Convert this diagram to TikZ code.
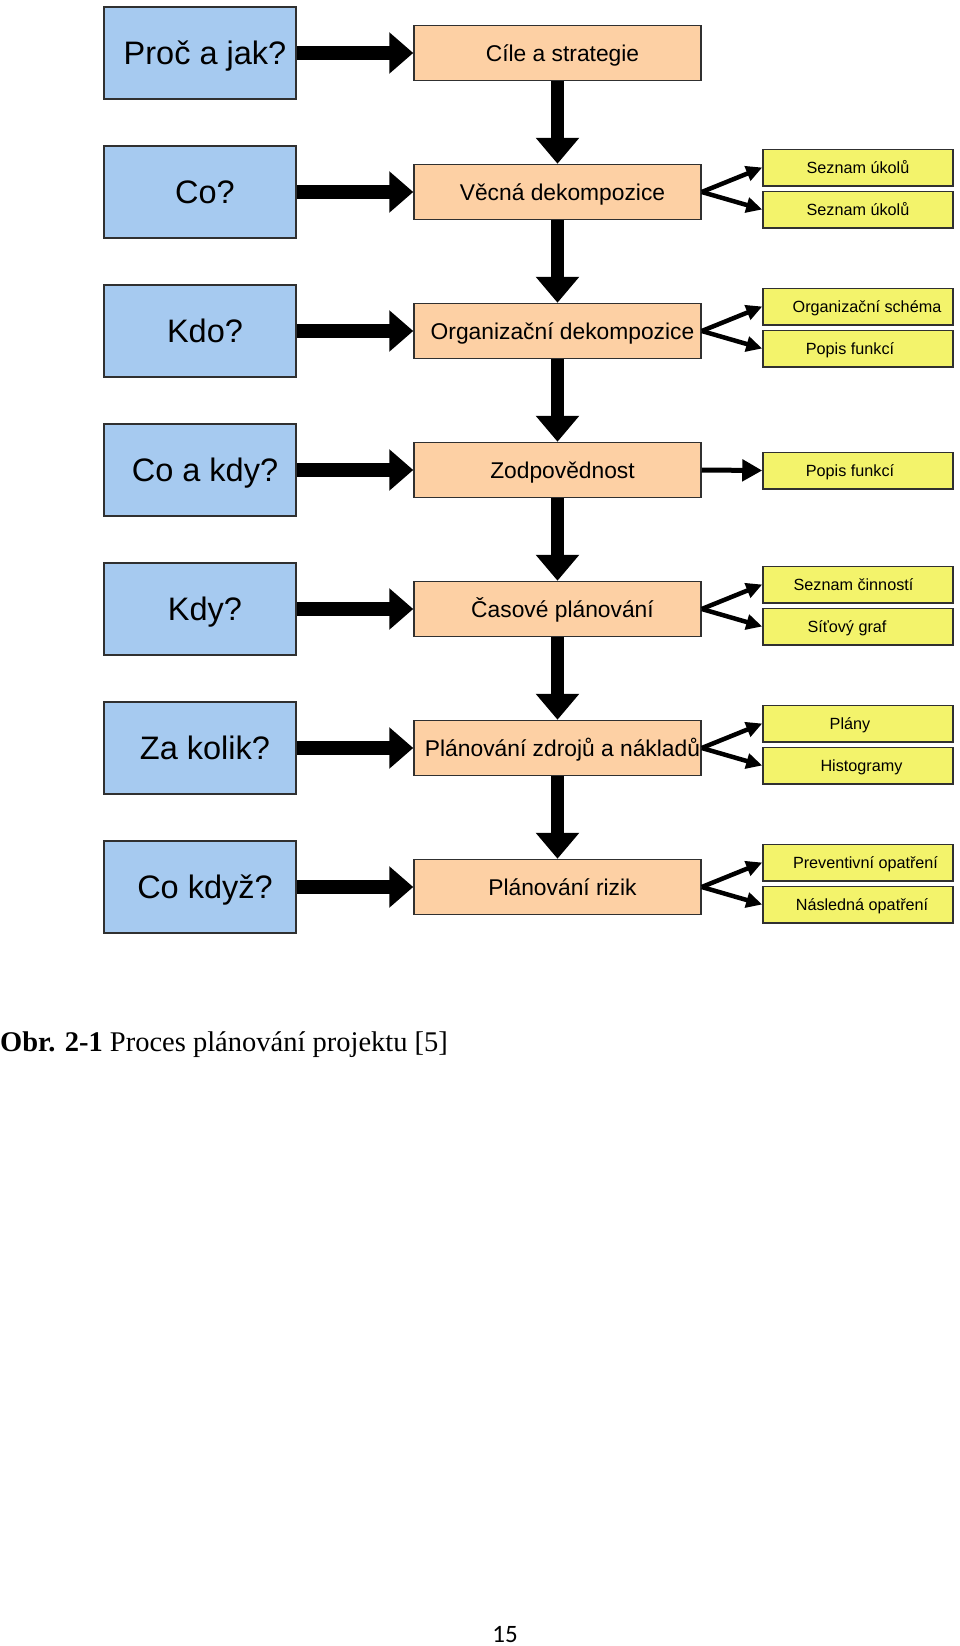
\documentclass[tikz,border=0pt]{standalone}
\usepackage{fontspec}
\setmainfont{Liberation Sans}
\newfontfamily\capfont{Liberation Serif}
\newfontfamily\pagefont{Carlito}
\usetikzlibrary{arrows.meta}
\definecolor{qblue}{HTML}{A6CAF0}
\definecolor{qorange}{HTML}{FDD0A4}
\definecolor{qyellow}{HTML}{F3F36B}
\definecolor{qborder}{HTML}{303030}
\begin{document}
\begin{tikzpicture}[x=1pt,y=-1pt,
  qbox/.style={draw=qborder, line width=1.6pt, fill=qblue, minimum width=192pt, minimum height=92pt, inner sep=0pt,
    text height=23.3pt, text depth=0pt, font=\fontsize{32.5}{36}\selectfont, execute at begin node=\hspace*{10pt}},
  pbox/.style={draw=qborder, line width=1.5pt, fill=qorange, minimum width=287pt, minimum height=55pt, inner sep=0pt,
    text height=16.3pt, text depth=0pt, font=\fontsize{22.8}{26}\selectfont, execute at begin node=\hspace*{10pt}},
  ybox/.style={draw=qborder, line width=1.5pt, fill=qyellow, minimum width=190pt, minimum height=36.5pt, inner sep=0pt,
    text height=11.6pt, text depth=0pt, font=\fontsize{16.2}{18}\selectfont},
  ts/.style={execute at begin node=\hspace*{#1}},
  harrow/.style={line width=14pt, -{Triangle[width=40pt,length=24pt]}},
  varrow/.style={line width=13pt, -{Triangle[width=42pt,length=26pt]}},
  fanarrow/.style={line width=4.5pt, -{Triangle[width=15pt,length=16pt]}},
  onearrow/.style={line width=5pt, -{Triangle[width=21pt,length=20pt]}},
]
\useasboundingbox (0,0) rectangle (960,1646);
% left question boxes
\node[qbox] (q1) at (200,53) {Proč a jak?};
\node[qbox] (q2) at (200,192) {Co?};
\node[qbox] (q3) at (200,331) {Kdo?};
\node[qbox] (q4) at (200,470) {Co a kdy?};
\node[qbox] (q5) at (200,609) {Kdy?};
\node[qbox] (q6) at (200,748) {Za kolik?};
\node[qbox] (q7) at (200,887) {Co když?};
% process boxes
\node[pbox] (p1) at (557.5,53) {Cíle a strategie};
\node[pbox] (p2) at (557.5,192) {Věcná dekompozice};
\node[pbox] (p3) at (557.5,331) {Organizační dekompozice};
\node[pbox] (p4) at (557.5,470) {Zodpovědnost};
\node[pbox] (p5) at (557.5,609) {Časové plánování};
\node[pbox] (p6) at (557.5,748) {Plánování zdrojů a nákladů};
\node[pbox] (p7) at (557.5,887) {Plánování rizik};
% output boxes
\node[ybox] (y2a) at (858,167.5) {Seznam úkolů};
\node[ybox] (y2b) at (858,209.5) {Seznam úkolů};
\node[ybox, ts=18pt] (y3a) at (858,306.5) {Organizační schéma};
\node[ybox, ts=-16pt] (y3b) at (858,348.5) {Popis funkcí};
\node[ybox, ts=-16pt] (y4) at (858,470.5) {Popis funkcí};
\node[ybox, ts=-9pt] (y5a) at (858,584.5) {Seznam činností};
\node[ybox, ts=-22pt] (y5b) at (858,626.5) {Síťový graf};
\node[ybox, ts=-16pt] (y6a) at (858,723.5) {Plány};
\node[ybox, ts=7pt] (y6b) at (858,765.5) {Histogramy};
\node[ybox, ts=15pt] (y7a) at (858,862.5) {Preventivní opatření};
\node[ybox, ts=8pt] (y7b) at (858,904.5) {Následná opatření};
% horizontal thick arrows
\foreach \i in {1,...,7} {\draw[harrow] (q\i.east) -- (p\i.west);}
% vertical thick arrows
\foreach \i/\j in {1/2,2/3,3/4,4/5,5/6,6/7} {\draw[varrow] (p\i.south) -- (p\j.north);}
% fan arrows
\foreach \i in {2,3,5,6,7} {
  \draw[fanarrow] (p\i.east) -- (y\i a.west);
  \draw[fanarrow] (p\i.east) -- (y\i b.west);
}
\draw[onearrow] (p4.east) -- (y4.west);
% caption
\node[anchor=base west, inner sep=0pt, font=\capfont\fontsize{28.5}{32}\selectfont] (cap) at (0,1051) {\textbf{Obr. 2-1} Proces plánování projektu [5]};
\node[anchor=base, inner sep=0pt, font=\pagefont\fontsize{25}{28}\selectfont] (pg) at (505,1642) {15};
\end{tikzpicture}
\end{document}
